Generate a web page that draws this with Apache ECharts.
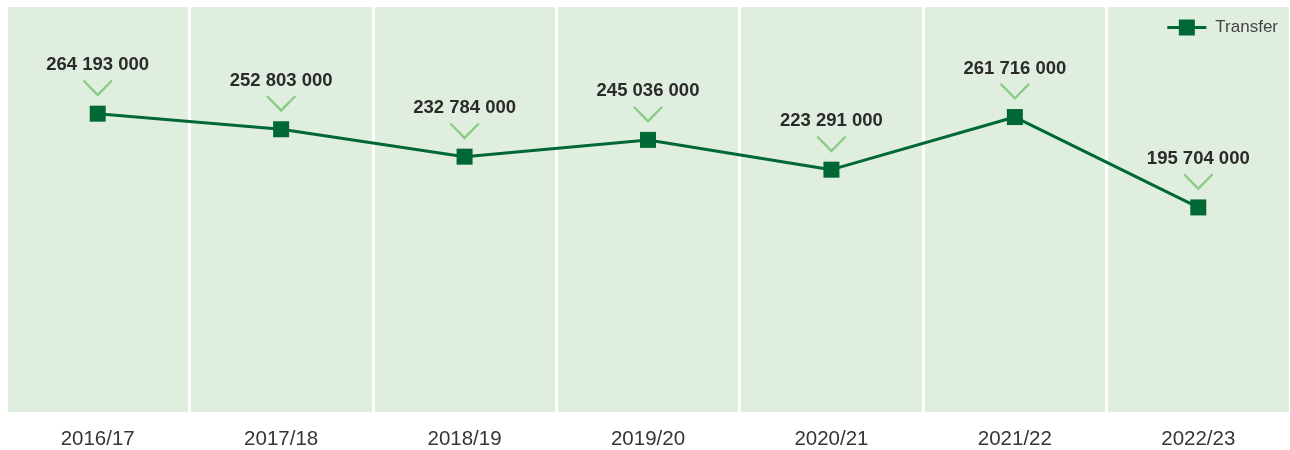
<!DOCTYPE html>
<html>
<head>
<meta charset="utf-8">
<script src="https://cdn.jsdelivr.net/npm/echarts@6/dist/echarts.min.js"></script>
<style>
  html, body { margin: 0; padding: 0; background: #fff; }
  #chart { width: 1290px; height: 450px; }
</style>
</head>
<body>
<div id="chart"></div>
<script>
// data
const years = ['2016/17', '2017/18', '2018/19', '2019/20', '2020/21', '2021/22', '2022/23'];
const transfer = [264193000, 252803000, 232784000, 245036000, 223291000, 261716000, 195704000];

const green = '#006834';
const chevron = 'path://M0,1.6 L1.6,0 L15,13.6 L28.4,0 L30,1.6 L15,17 Z';
// legend icon: line with a square on it
const legendIcon = 'path://M0,6.6 H39 V9.4 H0 Z M11.5,0 H27.5 V16 H11.5 Z';

// numbers like "264 193 000"
const fmt = v => String(v).replace(/\B(?=(\d{3})+(?!\d))/g, ' ');

const chart = echarts.init(document.getElementById('chart'));

chart.setOption({
  animation: false,
  textStyle: { fontFamily: '"Liberation Sans", Arial, sans-serif' },
  legend: {
    right: 7,
    top: 14,
    itemWidth: 39,
    itemHeight: 16,
    data: [{ name: 'Transfer', icon: legendIcon }],
    textStyle: { fontSize: 17, color: '#444', padding: [0, 0, 0, 4] }
  },
  grid: {
    left: 6, right: -2, top: 7, bottom: 37,
    show: true,
    backgroundColor: '#e0eedf',
    borderWidth: 0
  },
  xAxis: {
    type: 'category',
    data: years,
    boundaryGap: true,
    axisLine: { show: false },
    axisTick: { show: false },
    axisLabel: { margin: 17, fontSize: 20.5, color: '#363636' },
    splitLine: { show: true, lineStyle: { color: '#fff', width: 3 } }
  },
  yAxis: {
    type: 'value',
    min: 46300000,
    max: 342100000,
    show: false,
    splitLine: { show: false }
  },
  series: [
    {
      name: 'Transfer',
      type: 'line',
      data: transfer,
      symbol: 'rect',
      symbolSize: 16,
      lineStyle: { color: green, width: 3 },
      itemStyle: { color: green },
      label: {
        show: true,
        position: 'top',
        distance: 31,
        fontSize: 18.5,
        fontWeight: 'bold',
        color: '#2b2b2b',
        formatter: p => fmt(p.value)
      },
      z: 3
    },
    {
      name: 'chevron',
      type: 'line',
      data: transfer,
      symbol: chevron,
      symbolSize: [30, 17],
      symbolOffset: [0, -25.5],
      showAllSymbol: true,
      lineStyle: { opacity: 0 },
      itemStyle: { color: '#8acb86' },
      silent: true,
      z: 2
    }
  ]
});
</script>
</body>
</html>
